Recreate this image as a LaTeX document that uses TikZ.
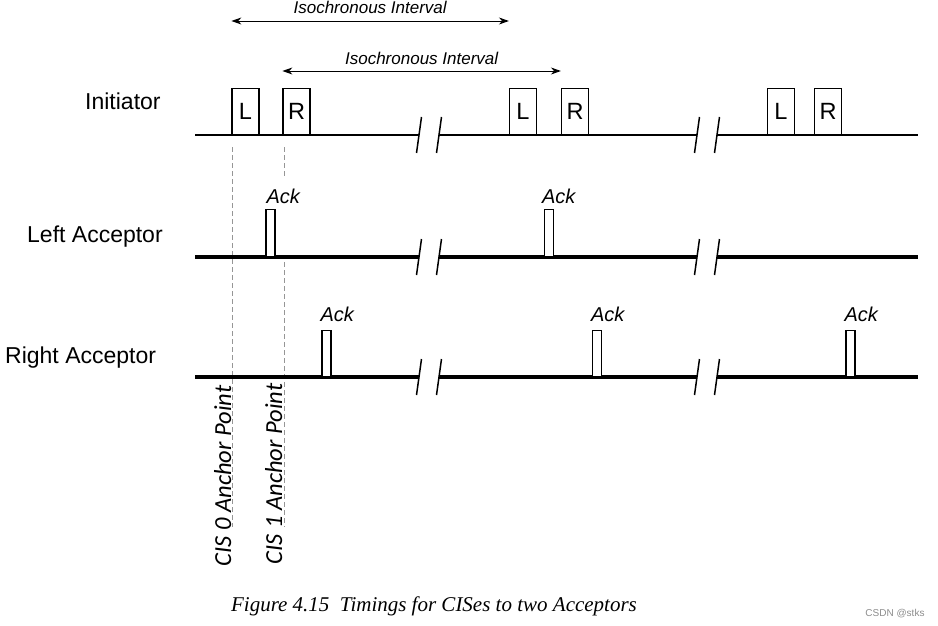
\documentclass[tikz,border=0pt]{standalone}
\usepackage{fontspec}
\setmainfont{Liberation Sans}
\newfontfamily\anchorfont{Carlito}
\newfontfamily\capfont{Liberation Serif}
\usetikzlibrary{arrows.meta}
\definecolor{AnchorGray}{RGB}{150,150,150}
\definecolor{MarkGray}{RGB}{140,140,140}

\begin{document}
\begin{tikzpicture}[x=1pt,y=-1pt, every node/.style={inner sep=0pt},
  rowlabel/.style={font=\fontsize{23}{27}\selectfont, anchor=base west},
  slotbox/.style={draw, line width=1.2pt, fill=white, minimum width=27pt,
                  minimum height=46pt, font=\fontsize{23.5}{27}\selectfont, anchor=south},
  ackbox/.style={draw, line width=1.2pt, fill=white, minimum width=9pt, anchor=south},
  acklabel/.style={font=\itshape\fontsize{20}{24}\selectfont, anchor=base west},
  ivlabel/.style={font=\itshape\fontsize{17}{20}\selectfont, anchor=base},
  interval/.style={{Stealth[length=10pt,width=7pt]}-{Stealth[length=10pt,width=7pt]}, line width=0.9pt},
  anchorline/.style={AnchorGray, line width=1pt, dash pattern=on 5pt off 3pt},
  cislabel/.style={rotate=90, anchor=base, font=\anchorfont\itshape\fontsize{24.5}{28}\selectfont}]
  \useasboundingbox (0,0) rectangle (938,626);

  % row names
  \node[rowlabel] (init) at (85,110) {Initiator};
  \node[rowlabel] (lacc) at (27,242) {Left Acceptor};
  \node[rowlabel] (racc) at (5,363) {Right Acceptor};

  % anchor points
  \draw[anchorline] (232,147) coordinate (a0top) -- (232,527) coordinate (a0bot);
  \draw[anchorline] (284,147) coordinate (a1top) -- (284,177) coordinate (a1mid);
  \draw[anchorline] (284,262) coordinate (a1low) -- (284,527) coordinate (a1bot);
  \node[cislabel] (cis0) at (231,476) {CIS 0 Anchor Point};
  \node[cislabel] (cis1) at (282,474) {CIS 1 Anchor Point};

  % time lines with breaks
  \foreach \y/\lw in {135/1.2pt, 257/3.3pt, 377/3.3pt} {
    \draw[line width=\lw] (195,\y) -- (419,\y) (439,\y) -- (697,\y) (717,\y) -- (918,\y);
    \foreach \bx in {419,439,697,717}
      \draw[line width=1.5pt] (\bx-2.5,\y+18) -- (\bx+2.5,\y-18);
  }

  % initiator slots
  \foreach \n/\xl/\xr in {1/245.5/296.5, 2/523/575, 3/781/828} {
    \node[slotbox] (L\n) at (\xl,135) {L};
    \node[slotbox] (R\n) at (\xr,135) {R};
  }

  % acks
  \node[ackbox, minimum height=47pt] (la1) at (270.5,257) {};
  \node[ackbox, minimum height=47pt] (la2) at (549,257) {};
  \node[ackbox, minimum height=46pt] (ra1) at (326.5,377) {};
  \node[ackbox, minimum height=46pt] (ra2) at (597,377) {};
  \node[ackbox, minimum height=46pt] (ra3) at (850.5,377) {};
  \node[acklabel] (ackla1) at ([xshift=1pt,yshift=5pt]la1.north west) {Ack};
  \node[acklabel] (ackla2) at ([xshift=-2pt,yshift=5pt]la2.north west) {Ack};
  \foreach \b in {ra1,ra2,ra3}
    \node[acklabel] (ack\b) at ([xshift=-1pt,yshift=8pt]\b.north west) {Ack};

  % isochronous intervals
  \coordinate (ivy0) at (0,21);
  \coordinate (ivy1) at (0,71);
  \draw[interval] (L1.west |- ivy0) -- node[ivlabel, yshift=7pt] (iv0) {Isochronous Interval} (L2.west |- ivy0);
  \draw[interval] (R1.west |- ivy1) -- node[ivlabel, yshift=6pt] (iv1) {Isochronous Interval} (R2.west |- ivy1);

  % caption
  \node[font=\capfont\itshape\fontsize{21}{25}\selectfont, anchor=base] (caption)
    at (434,611) {Figure 4.15\ \ Timings for CISes to two Acceptors};
  \node[font=\fontsize{10}{12}\selectfont, text=MarkGray, anchor=base] (wm) at (895,616) {CSDN @stks};
\end{tikzpicture}
\end{document}
